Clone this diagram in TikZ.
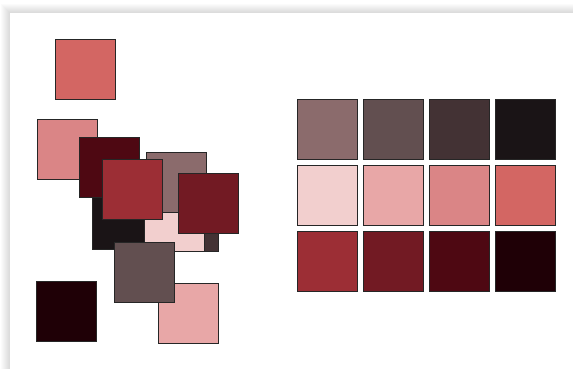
\documentclass[tikz,border=0pt]{standalone}
\usepackage{tikz}

\definecolor{mauve}{HTML}{8B6B6C}
\definecolor{taupe}{HTML}{624F50}
\definecolor{cocoa}{HTML}{433234}
\definecolor{ink}{HTML}{1A1416}
\definecolor{blush}{HTML}{F2CFCE}
\definecolor{rose}{HTML}{E8A7A7}
\definecolor{salmon}{HTML}{DA8586}
\definecolor{coral}{HTML}{D36663}
\definecolor{crimson}{HTML}{9C2E35}
\definecolor{wine}{HTML}{721A23}
\definecolor{maroon}{HTML}{4E0812}
\definecolor{blackberry}{HTML}{1F0006}

\begin{document}
\begin{tikzpicture}[x=1pt, y=-1pt, swatch/.style={draw=black!85, line width=0.7pt}]
                \useasboundingbox (0,0) rectangle (573,368);

                % Card with soft shadow
                \foreach \s in {1,...,9}
                    \fill[black, opacity=0.016] (10-\s,13-\s) rectangle (600,400);
                \fill[white] (10,13) rectangle (600,400);

                % Palette grid
                \foreach \x/\c in {297/mauve, 363/taupe, 429/cocoa, 495/ink}
                    \filldraw[swatch, fill=\c] (\x,99) rectangle ++(60,60);
                \foreach \x/\c in {297/blush, 363/rose, 429/salmon, 495/coral}
                    \filldraw[swatch, fill=\c] (\x,165) rectangle ++(60,60);
                \foreach \x/\c in {297/crimson, 363/wine, 429/maroon, 495/blackberry}
                    \filldraw[swatch, fill=\c] (\x,231) rectangle ++(60,60);

                % Scattered swatches (back to front)
                \filldraw[swatch, fill=coral] (55,39) rectangle ++(60,60);
                \filldraw[swatch, fill=salmon] (37,119) rectangle ++(60,60);
                \filldraw[swatch, fill=blackberry] (36,281) rectangle ++(60,60);
                \filldraw[swatch, fill=rose] (158,283) rectangle ++(60,60);
                \filldraw[swatch, fill=ink] (92,189) rectangle ++(60,60);
                \filldraw[swatch, fill=cocoa] (158,191) rectangle ++(60,60);
                \filldraw[swatch, fill=blush] (144,191) rectangle ++(60,60);
                \filldraw[swatch, fill=mauve] (146,152) rectangle ++(60,60);
                \filldraw[swatch, fill=maroon] (79,137) rectangle ++(60,60);
                \filldraw[swatch, fill=crimson] (102,159) rectangle ++(60,60);
                \filldraw[swatch, fill=wine] (178,173) rectangle ++(60,60);
                \filldraw[swatch, fill=taupe] (114,242) rectangle ++(60,60);
\end{tikzpicture}
\end{document}
